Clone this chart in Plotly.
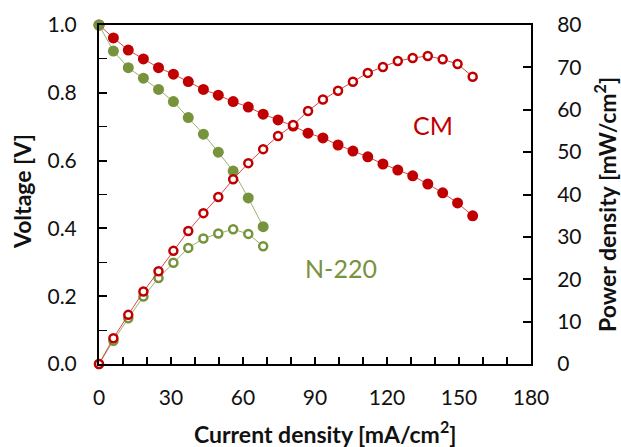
import plotly.graph_objects as go

# ---- data ----
cm_current = [0, 6.0, 12.2, 18.5, 24.8, 31.0, 37.2, 43.5, 49.7, 55.9, 62.2, 68.4, 74.6,
              80.9, 87.1, 93.3, 99.6, 105.8, 112.0, 118.3, 124.5, 130.7, 137.0, 143.2,
              149.4, 155.7]
cm_voltage = [1.00, 0.962, 0.926, 0.900, 0.874, 0.855, 0.833, 0.810, 0.793, 0.774, 0.758,
              0.737, 0.720, 0.702, 0.681, 0.667, 0.646, 0.628, 0.611, 0.590, 0.572, 0.555,
              0.531, 0.505, 0.475, 0.437]
cm_power = [0, 6.1, 11.6, 17.1, 21.9, 26.7, 31.4, 35.6, 39.4, 43.6, 47.4, 50.7, 53.8,
            56.4, 59.7, 62.4, 64.5, 66.6, 68.7, 70.1, 71.5, 72.2, 72.7, 71.9, 70.8, 67.8]

n220_current = [0, 6.0, 12.2, 18.5, 24.8, 31.0, 37.2, 43.5, 49.7, 55.9, 62.2, 68.4]
n220_voltage = [1.00, 0.923, 0.874, 0.843, 0.810, 0.774, 0.727, 0.678, 0.625, 0.569,
                0.490, 0.405]
n220_power = [0, 5.5, 10.8, 15.9, 20.3, 23.9, 27.4, 29.6, 30.8, 31.8, 30.7, 27.8]

x_ticks = [0, 30, 60, 90, 120, 150, 180]

RED = "#C00000"
GREEN = "#77933C"
RED_LINE = "rgba(210,40,40,0.85)"
GREEN_LINE = "rgba(140,170,90,0.9)"
FONT = "Lato"

fig = go.Figure()

fig.add_trace(go.Scatter(x=cm_current, y=cm_voltage, mode="lines+markers",
                         line=dict(color=RED_LINE, width=1), cliponaxis=False,
                         marker=dict(color=RED, size=11), yaxis="y", showlegend=False))
fig.add_trace(go.Scatter(x=n220_current, y=n220_voltage, mode="lines+markers",
                         line=dict(color=GREEN_LINE, width=1), cliponaxis=False,
                         marker=dict(color=GREEN, size=11), yaxis="y", showlegend=False))
fig.add_trace(go.Scatter(x=n220_current, y=n220_power, mode="lines+markers",
                         line=dict(color=GREEN_LINE, width=1), cliponaxis=False,
                         marker=dict(color="white", size=8, line=dict(color=GREEN, width=2.5)),
                         yaxis="y2", showlegend=False))
fig.add_trace(go.Scatter(x=cm_current, y=cm_power, mode="lines+markers",
                         line=dict(color=RED_LINE, width=1), cliponaxis=False,
                         marker=dict(color="white", size=8, line=dict(color=RED, width=2.5)),
                         yaxis="y2", showlegend=False))

tickfont = dict(family=FONT, size=21, color="#111")
titlefont = dict(family=FONT, size=23, color="#111", weight="bold")

fig.update_layout(
    width=621, height=447,
    margin=dict(l=99, r=90, t=25, b=83),
    paper_bgcolor="white", plot_bgcolor="white",
    font=dict(family=FONT),
    xaxis=dict(range=[0, 180], tickvals=x_ticks, ticks="inside", ticklen=7, tickwidth=1.5,
               tickcolor="black", minor=dict(dtick=10, ticks="inside", ticklen=7,
                                             tickwidth=1.5, tickcolor="black"),
               showline=True, linecolor="black", linewidth=2, mirror=True,
               showgrid=False, zeroline=False, tickfont=tickfont, ticklabelstandoff=14),
    yaxis=dict(range=[0, 1.0], dtick=0.2, tickformat=".1f", ticks="inside", ticklen=8,
               tickwidth=2, tickcolor="black",
               minor=dict(dtick=0.1, ticks="inside", ticklen=8, tickwidth=1.2,
                          tickcolor="black"),
               showline=True, linecolor="black", linewidth=2,
               showgrid=False, zeroline=False, tickfont=tickfont, ticklabelstandoff=16),
    yaxis2=dict(range=[0, 80], dtick=10, overlaying="y", side="right", ticks="inside",
                ticklen=8, tickwidth=1.5, tickcolor="black",
                showline=True, linecolor="black", linewidth=2,
                showgrid=False, zeroline=False, tickfont=tickfont, ticklabelstandoff=20),
    annotations=[
        dict(text="Current density [mA/cm<sup>2</sup>]", xref="paper", yref="paper",
             x=(324.5 - 99) / 432, y=(364 - 432) / 339, xanchor="center",
             yanchor="middle", showarrow=False, font=titlefont),
        dict(text="Voltage [V]", xref="paper", yref="paper", textangle=-90,
             x=(22 - 99) / 432, y=(364 - 192) / 339, xanchor="center",
             yanchor="middle", showarrow=False, font=titlefont),
        dict(text="Power density [mW/cm<sup>2</sup>]", xref="paper", yref="paper",
             textangle=-90, x=(606 - 99) / 432, y=(364 - 205) / 339, xanchor="center",
             yanchor="middle", showarrow=False, font=titlefont),
        dict(text="CM", xref="paper", yref="paper", x=(432.5 - 99) / 432,
             y=(364 - 125) / 339, xanchor="center", yanchor="middle", showarrow=False,
             font=dict(family=FONT, size=25, color=RED)),
        dict(text="N-220", xref="paper", yref="paper", x=(340.5 - 99) / 432,
             y=(364 - 267.5) / 339, xanchor="center", yanchor="middle", showarrow=False,
             font=dict(family=FONT, size=25, color=GREEN)),
    ],
)

fig.write_html("out.html",
               config={"displayModeBar": False},
               post_script="document.body.style.margin='0px';"
                           "document.body.style.overflow='hidden';")
